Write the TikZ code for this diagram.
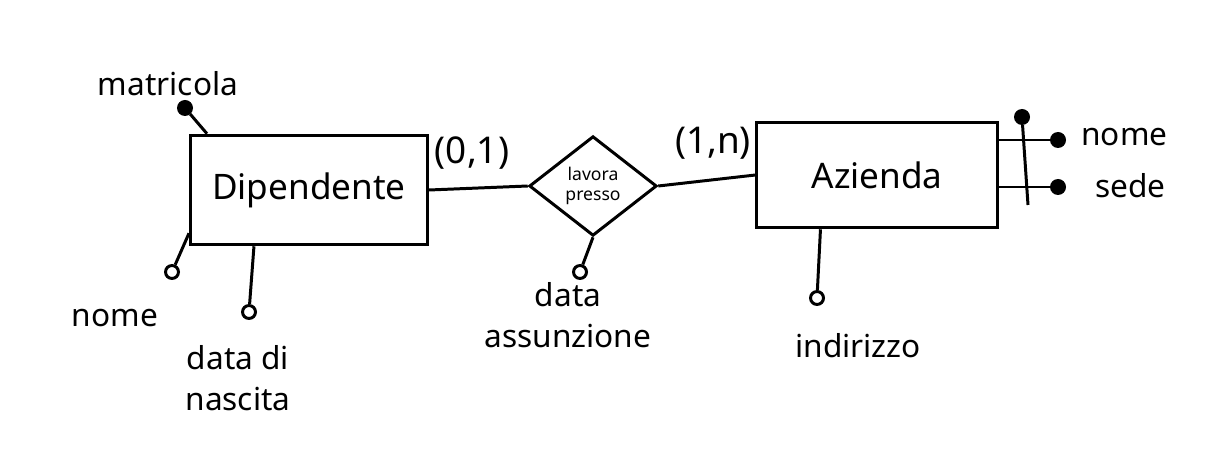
\documentclass[tikz,border=0pt]{standalone}
\usepackage{fontspec}
\setmainfont{Noto Sans}
\usetikzlibrary{shapes.geometric, calc}

\begin{document}
\begin{tikzpicture}[x=0.02cm, y=-0.02cm, line width=1.7pt,
entity/.style={draw, rectangle, font=\fontsize{20}{24}\selectfont},
relation/.style={draw, diamond, inner sep=0pt, align=center,
  font=\fontsize{10}{11}\selectfont},
attribute/.style={draw, circle, fill=white, inner sep=0pt, minimum size=13*0.567pt},
keyattr/.style={attribute, fill=black},
attrlabel/.style={align=center, font=\fontsize{18}{23}\selectfont},
card/.style={font=\fontsize{21}{24}\selectfont}]
\useasboundingbox (0,0) rectangle (1226,465);
% DIPENDENTE
\node[entity, minimum width=238*0.567pt, minimum height=110*0.567pt] (dip) at (309,190) {Dipendente};
\node[keyattr] (matricola) at (185,108) {};
\node[attribute] (nome) at (172,272) {};
\node[attribute] (nascita) at (249,312) {};
\draw ($(dip.north west)+(18,0)$) -- (matricola);
\draw ($(dip.south west)+(0,-13)$) -- (nome);
\draw ($(dip.south west)+(65,0)$) -- (nascita);
\node[attrlabel] (matricolatxt) at (168,84) {matricola};
\node[attrlabel] (nometxt) at (115,318) {nome};
\node[attrlabel] (nascitatxt) at (238,378) {data di\\nascita};
% LAVORA PRESSO
\node[relation, minimum width=128*0.567pt, minimum height=100*0.567pt] (lavora) at (593,186) {lavora\\presso};
\node[attribute] (assunzione) at (580,272) {};
\draw (lavora.south) -- (assunzione);
\node[attrlabel] (assunzionetxt) at (568,315) {data\\assunzione};
\draw (dip.east) -- (lavora.west);
\node[card] (carddip) at (472,153) {(0,1)};
% AZIENDA
\node[entity, minimum width=241*0.567pt, minimum height=106*0.567pt] (az) at (877,175) {Azienda};
\draw (lavora.east) -- (az.west);
\node[card] (cardaz) at (713,143) {(1,n)};
\node[attribute] (indirizzo) at (817,298) {};
\draw ($(az.south west)+(65,0)$) -- (indirizzo);
\node[attrlabel] (indirizzotxt) at (858,346) {indirizzo};
\node[keyattr] (nomeaz) at (1058,140) {};
\node[keyattr] (sede) at (1058,187) {};
\draw ($(az.east)+(0,-35)$) -- (nomeaz);
\draw ($(az.east)+(0,12)$) -- (sede);
\node[keyattr] (chiave) at (1022,117) {};
\coordinate (chiavefine) at (1028,205);
\draw (chiave) -- (chiavefine);
\node[attrlabel, anchor=west] (nomeaztxt) at (1074,137) {nome};
\node[attrlabel, anchor=west] (sedetxt) at (1088,186) {sede};
\end{tikzpicture}
\end{document}
